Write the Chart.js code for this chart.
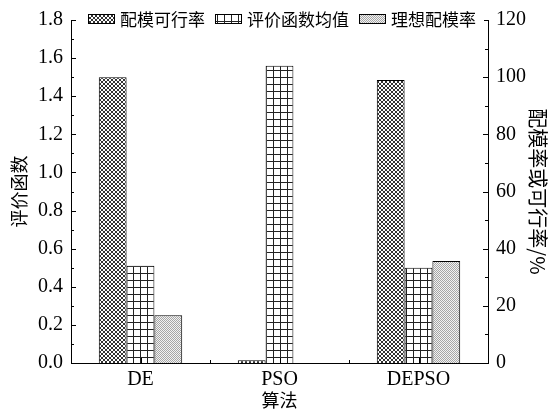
<!DOCTYPE html>
<html>
<head>
<meta charset="utf-8">
<script src="https://cdn.jsdelivr.net/npm/chart.js@4"></script>
<style>
html,body{margin:0;padding:0;background:#fff;}
canvas{display:block;}
</style>
</head>
<body>
<canvas id="c" width="550" height="417"></canvas>
<script>
// ---- data ----
const categories = ['DE', 'PSO', 'DEPSO'];
const seriesNames = ['配模可行率', '评价函数均值', '理想配模率'];
const feasibleRate = [100, 1, 99];        // 配模可行率 (%) – right axis
const evalMean = [0.51, 1.56, 0.50];      // 评价函数均值 – left axis
const idealRate = [16.7, 0, 35.7];        // 理想配模率 (%) – right axis
const leftTicks = [0, 0.2, 0.4, 0.6, 0.8, 1.0, 1.2, 1.4, 1.6, 1.8];
const rightTicks = [0, 20, 40, 60, 80, 100, 120];

const FONT = "'Liberation Serif', 'Noto Sans CJK SC', serif";
const CJK = "'Noto Sans CJK SC', 'Liberation Serif', sans-serif";

const canvas = document.getElementById('c');
const mainCtx = canvas.getContext('2d');

function makePattern(w, h, draw) {
  const t = document.createElement('canvas');
  t.width = w; t.height = h;
  const c = t.getContext('2d');
  draw(c);
  return mainCtx.createPattern(t, 'repeat');
}
// cross-hatch (diamond X) pattern
const patX = makePattern(4, 4, c => {
  c.fillStyle = '#fff'; c.fillRect(0, 0, 4, 4);
  c.fillStyle = '#333';
  [[0,0],[1,1],[2,2],[3,3],[3,0],[2,1],[1,2],[0,3]].forEach(p => c.fillRect(p[0], p[1], 1, 1));
});
// grid pattern
const patGrid = makePattern(7, 7, c => {
  c.fillStyle = '#fff'; c.fillRect(0, 0, 7, 7);
  c.fillStyle = '#222';
  c.fillRect(0, 0, 7, 1);
  c.fillRect(0, 0, 1, 7);
});
// fine dotted gray pattern
const patDot = makePattern(2, 2, c => {
  c.fillStyle = '#f2f2f2'; c.fillRect(0, 0, 2, 2);
  c.fillStyle = '#a6a6a6';
  c.fillRect(0, 0, 1, 1); c.fillRect(1, 1, 1, 1);
});

const tickPlugin = {
  id: 'innerTicks',
  afterDatasetsDraw(chart) {
    const ctx = chart.ctx;
    const {left, right, top, bottom} = chart.chartArea;
    const {x, y, y1} = chart.scales;
    ctx.save();
    ctx.strokeStyle = '#000';
    ctx.lineWidth = 1;
    ctx.beginPath();
    for (let i = 0; i <= 18; i++) {
      const py = Math.round(y.getPixelForValue(i * 0.1)) + 0.5;
      const len = i % 2 === 0 ? 5 : 3;
      ctx.moveTo(left, py); ctx.lineTo(left + len, py);
    }
    for (let i = 0; i <= 12; i++) {
      const py = Math.round(y1.getPixelForValue(i * 10)) + 0.5;
      const len = i % 2 === 0 ? 5 : 3;
      ctx.moveTo(right, py); ctx.lineTo(right - len, py);
    }
    for (let i = 0; i < categories.length; i++) {
      const px = Math.round(x.getPixelForValue(i)) + 0.5;
      ctx.moveTo(px, bottom); ctx.lineTo(px, bottom - 5);
      if (i < categories.length - 1) {
        const pm = Math.round((x.getPixelForValue(i) + x.getPixelForValue(i + 1)) / 2) + 0.5;
        ctx.moveTo(pm, bottom); ctx.lineTo(pm, bottom - 3);
      }
    }
    // top frame
    const ty = Math.round(top) + 0.5;
    ctx.moveTo(left, ty); ctx.lineTo(right, ty);
    ctx.stroke();
    ctx.restore();
  },
  afterDraw(chart) {
    // legend inside top of plot
    const ctx = chart.ctx;
    const {left, right, top} = chart.chartArea;
    ctx.save();
    ctx.fillStyle = '#fff';
    ctx.fillRect(left + 5, top - 9, right - left - 9, 19);
    ctx.font = '17px ' + CJK;
    const sw = 27, sh = 10, gap = 5, spacing = 10;
    const items = chart.data.datasets.map(d => ({label: d.label, fill: d.backgroundColor}));
    let total = 0;
    items.forEach((it, i) => {
      it.tw = ctx.measureText(it.label).width;
      total += sw + gap + it.tw + (i < items.length - 1 ? spacing : 0);
    });
    let xx = Math.round((left + right) / 2 - total / 2) + 2;
    const cy = top - 1;
    items.forEach(it => {
      ctx.fillStyle = it.fill;
      ctx.fillRect(xx, cy - sh / 2, sw, sh);
      ctx.strokeStyle = '#000'; ctx.lineWidth = 1;
      ctx.strokeRect(xx + 0.5, Math.round(cy - sh / 2) + 0.5, sw - 1, sh - 1);
      xx += sw + gap;
      ctx.fillStyle = '#000';
      ctx.textBaseline = 'middle';
      ctx.textAlign = 'left';
      ctx.fillText(it.label, xx, cy + 1);
      xx += it.tw + spacing;
    });
    ctx.restore();
  }
};

new Chart(canvas, {
  type: 'bar',
  data: {
    labels: categories,
    datasets: [
      {label: seriesNames[0], data: feasibleRate, yAxisID: 'y1', backgroundColor: patX, borderColor: '#000', borderWidth: 1},
      {label: seriesNames[1], data: evalMean, yAxisID: 'y', backgroundColor: patGrid, borderColor: '#000', borderWidth: 1},
      {label: seriesNames[2], data: idealRate, yAxisID: 'y1', backgroundColor: patDot, borderColor: '#000', borderWidth: 1}
    ]
  },
  options: {
    responsive: false,
    animation: false,
    devicePixelRatio: 1,
    categoryPercentage: 0.6,
    barPercentage: 1.0,
    layout: {padding: {top: 20, left: 0, right: 0, bottom: 0}},
    plugins: {legend: {display: false}, tooltip: {enabled: false}},
    scales: {
      x: {
        grid: {display: false, drawTicks: false},
        border: {display: true, color: '#000', width: 1},
        ticks: {color: '#000', font: {family: FONT, size: 20}, padding: 5},
        title: {display: true, text: '算法', color: '#000', font: {family: CJK, size: 18}, padding: {top: 0, bottom: 6}},
        afterFit(s) { s.height = 54; }
      },
      y: {
        position: 'left',
        min: 0, max: 1.8,
        afterBuildTicks(s) { s.ticks = leftTicks.map(v => ({value: v})); },
        grid: {display: false, drawTicks: false},
        border: {display: true, color: '#000', width: 1},
        ticks: {color: '#000', font: {family: FONT, size: 20}, padding: 8, callback: v => Number(v).toFixed(1)},
        title: {display: true, text: '评价函数', color: '#000', font: {family: CJK, size: 18}, padding: {top: 8, bottom: 0}},
        afterFit(s) { s.width = 71; }
      },
      y1: {
        position: 'right',
        min: 0, max: 120,
        afterBuildTicks(s) { s.ticks = rightTicks.map(v => ({value: v})); },
        grid: {display: false, drawTicks: false},
        border: {display: true, color: '#000', width: 1},
        ticks: {color: '#000', font: {family: FONT, size: 20}, padding: 8, callback: v => String(v)},
        title: {display: true, text: '配模率或可行率/%', color: '#000', font: {family: CJK, size: 20}, padding: {top: 0, bottom: 0}},
        afterFit(s) { s.width = 62; }
      }
    }
  },
  plugins: [tickPlugin]
});
</script>
</body>
</html>
